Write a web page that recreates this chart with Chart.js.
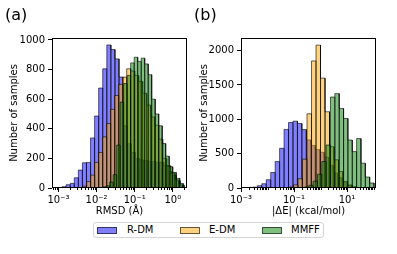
<!DOCTYPE html>
<html>
<head>
<meta charset="utf-8">
<script src="https://cdn.jsdelivr.net/npm/chart.js@4.4.1/dist/chart.umd.min.js"></script>
<style>
  body { margin: 0; width: 397px; height: 254px; background: #fff; position: relative; overflow: hidden;
         font-family: 'DejaVu Sans', sans-serif; color: #000; }
  canvas { position: absolute; top: 0; }
  #chartA { left: 0; }
  #chartB { left: 190px; }
  .panel-tag { position: absolute; font-size: 16px; line-height: 16px; }
  .legend { position: absolute; left: 93px; top: 222px; width: 229px; height: 14px;
            border: 1px solid #d4d4d4; border-radius: 3px; font-size: 10px; }
  .legend .patch { position: absolute; top: 4px; width: 18px; height: 5px; border: 1px solid rgba(0,0,0,0.6); }
  .legend .txt { position: absolute; top: 1px; line-height: 12px; }
</style>
</head>
<body>
<canvas id="chartA" width="190" height="222"></canvas>
<canvas id="chartB" width="207" height="222"></canvas>
<div class="panel-tag" style="left:5px; top:7px;">(a)</div>
<div class="panel-tag" style="left:194px; top:7px;">(b)</div>
<div class="legend">
  <div class="patch" style="left:3px; background:rgba(0,0,255,0.5);"></div>
  <div class="txt" style="left:33px;">R-DM</div>
  <div class="patch" style="left:86px; background:rgba(255,165,0,0.5);"></div>
  <div class="txt" style="left:115px;">E-DM</div>
  <div class="patch" style="left:168px; background:rgba(0,128,0,0.5);"></div>
  <div class="txt" style="left:197px;">MMFF</div>
</div>
<script>
'use strict';

// series names
const seriesNames = ['R-DM', 'E-DM', 'MMFF'];

// panel (a): RMSD histograms (log10 of first bin edge, log10 bin width, counts per bin)
const rmsdTicks = [-3, -2, -1, 0];
const rmsdCountTicks = [0, 200, 400, 600, 800, 1000];
const rmsdRdmStart = -3.013, rmsdRdmWidth = 0.1068;
const rmsdRdm = [3, 9, 22, 31, 69, 121, 170, 173, 338, 486, 675, 805, 966, 935, 872, 749,
  420, 300, 240, 200, 190, 185, 180, 178, 175, 175, 150, 110, 87, 49, 20];
const rmsdEdmStart = -2.470, rmsdEdmWidth = 0.105;
const rmsdEdm = [3, 12, 43, 87, 173, 240, 345, 435, 531, 625, 700, 749, 805, 790, 760, 720,
  640, 560, 480, 424, 330, 200, 150, 100, 55, 20];
const rmsdMmffStart = -2.024, rmsdMmffWidth = 0.0919;
const rmsdMmff = [1, 3, 8, 15, 40, 90, 290, 580, 706, 760, 845, 883, 855, 877, 838, 765,
  600, 500, 420, 300, 215, 143, 105, 65, 31];

// panel (b): |dE| histograms
const energyTicks = [-3, -1, 1];
const energyCountTicks = [0, 500, 1000, 1500, 2000];
const energyRdmStart = -2.887, energyRdmWidth = 0.168;
const energyRdm = [2, 9, 12, 33, 62, 120, 226, 385, 578, 853, 954, 973, 940, 850, 700, 620,
  560, 520, 450, 330, 220, 150, 80, 35, 12, 4];
const energyEdmStart = -1.358, energyEdmWidth = 0.1698;
const energyEdm = [5, 15, 45, 135, 420, 1080, 1850, 2080, 1600, 1110, 600, 410, 240, 95, 45, 18];
const energyMmffStart = -0.6075, energyMmffWidth = 0.1642;
const energyMmff = [15, 40, 100, 200, 385, 626, 1325, 1374, 1157, 1012, 698, 530, 720, 361, 160, 72];

const fills = ['rgba(0,0,255,0.5)', 'rgba(255,165,0,0.5)', 'rgba(0,128,0,0.5)'];
const edge = 'rgba(0,0,0,0.6)';

Chart.defaults.font.family = "'DejaVu Sans', sans-serif";
Chart.defaults.font.size = 10;
Chart.defaults.color = '#000';

const sup = { '-': '\u207B', '0': '\u2070', '1': '\u00B9', '2': '\u00B2', '3': '\u00B3' };
function decadeLabel(v) {
  return '10' + String(v).split('').map(c => sup[c]).join('');
}

// histogram outline: each bin goes up, across, and back down to zero
function histSeries(idx, start, width, counts) {
  const pts = [];
  counts.forEach((n, i) => {
    const lo = start + i * width, hi = lo + width;
    pts.push({ x: lo, y: 0 }, { x: lo, y: n }, { x: hi, y: n }, { x: hi, y: 0 });
  });
  return {
    label: seriesNames[idx],
    data: pts,
    showLine: true,
    fill: 'origin',
    backgroundColor: fills[idx],
    borderColor: edge,
    borderWidth: 1,
    pointRadius: 0,
    order: 3 - idx
  };
}

// box around the axes plus the small log ticks
const framePlugin = {
  id: 'frame',
  afterDraw(chart) {
    const { ctx, chartArea: a } = chart;
    const xs = chart.scales.x;
    ctx.save();
    ctx.strokeStyle = '#000';
    ctx.lineWidth = 1;
    const l = Math.round(a.left) + 0.5, t = Math.round(a.top) + 0.5;
    const r = Math.round(a.right) - 0.5, b = Math.round(a.bottom) - 0.5;
    ctx.strokeRect(l, t, r - l, b - t);
    ctx.beginPath();
    for (let d = Math.floor(xs.min); d <= Math.ceil(xs.max); d++) {
      for (let k = 1; k <= 9; k++) {
        const v = d + Math.log10(k);
        if (v < xs.min || v > xs.max) continue;
        if (k === 1 && xs.ticks.some(tk => tk.value === v)) continue;
        const px = Math.round(xs.getPixelForValue(v)) + 0.5;
        ctx.moveTo(px, b);
        ctx.lineTo(px, b + 2.5);
      }
    }
    ctx.stroke();
    ctx.restore();
  }
};

function makePanel(id, p) {
  new Chart(document.getElementById(id), {
    type: 'scatter',
    data: { datasets: p.datasets },
    options: {
      responsive: false,
      animation: false,
      layout: { padding: { top: 38, right: p.rightPad, left: 0, bottom: 0 } },
      plugins: { legend: { display: false }, tooltip: { enabled: false } },
      scales: {
        x: {
          type: 'linear',
          min: p.xMin,
          max: p.xMax,
          afterBuildTicks: s => { s.ticks = p.xTicks.map(v => ({ value: v })); },
          afterFit: s => { s.height = 34; },
          ticks: { callback: v => decadeLabel(v), maxRotation: 0, autoSkip: false, padding: 2 },
          grid: { drawOnChartArea: false, tickLength: 4, tickColor: '#000' },
          border: { display: false },
          title: { display: true, text: p.xTitle, padding: { top: 0, bottom: 5 } }
        },
        y: {
          type: 'linear',
          min: 0,
          max: p.yMax,
          afterBuildTicks: s => { s.ticks = p.yTicks.map(v => ({ value: v })); },
          afterFit: s => { s.width = p.yWidth; },
          ticks: { callback: v => String(v), autoSkip: false, padding: 3 },
          grid: { drawOnChartArea: false, tickLength: 4, tickColor: '#000' },
          border: { display: false },
          title: { display: true, text: 'Number of samples', padding: { top: 8, bottom: 0 } }
        }
      }
    },
    plugins: [framePlugin]
  });
}

makePanel('chartA', {
  datasets: [
    histSeries(0, rmsdRdmStart, rmsdRdmWidth, rmsdRdm),
    histSeries(1, rmsdEdmStart, rmsdEdmWidth, rmsdEdm),
    histSeries(2, rmsdMmffStart, rmsdMmffWidth, rmsdMmff)
  ],
  xMin: -3.17, xMax: 0.373, xTicks: rmsdTicks, xTitle: 'RMSD (\u00C5)',
  yMax: 1013, yTicks: rmsdCountTicks, yWidth: 52, rightPad: 3
});

makePanel('chartB', {
  datasets: [
    histSeries(0, energyRdmStart, energyRdmWidth, energyRdm),
    histSeries(1, energyEdmStart, energyEdmWidth, energyEdm),
    histSeries(2, energyMmffStart, energyMmffWidth, energyMmff)
  ],
  xMin: -3.0, xMax: 2.094, xTicks: energyTicks, xTitle: '|\u0394E| (kcal/mol)',
  yMax: 2184, yTicks: energyCountTicks, yWidth: 51, rightPad: 21
});
</script>
</body>
</html>
